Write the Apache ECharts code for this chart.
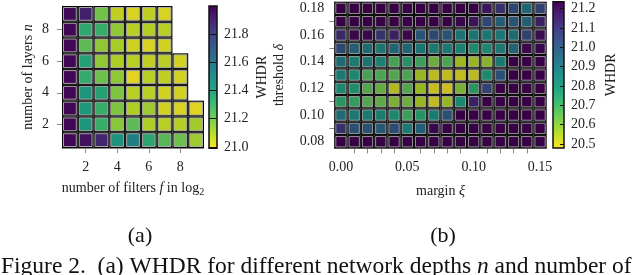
<!DOCTYPE html>
<html><head><meta charset="utf-8">
<script src="https://cdn.jsdelivr.net/npm/echarts@6/dist/echarts.min.js"></script>
<style>html,body{margin:0;padding:0;background:#fff}#c{width:640px;height:275px}</style>
</head><body><div id="c"></div>
<script>
// ---------- data ----------
const filtersF = ['1','2','3','4','5','6','7','8','9'];
const layersN  = ['1','2','3','4','5','6','7','8','9'];
// rows: n = 1..9, columns: f = 1..9 (null = not evaluated)
const whdrN1 = [21.98, 21.95, 21.88, 21.44, 21.52, 21.35, 21.24, 21.20, 21.12];
const whdrN2 = [21.98, 21.42, 21.31, 21.15, 21.23, 21.09, 21.07, 21.08, 21.11];
const whdrN3 = [21.98, 21.41, 21.31, 21.17, 21.09, 21.12, 21.03, 21.02, 21.00];
const whdrN4 = [21.98, 21.43, 21.37, 21.17, 21.07, 21.07, 21.03, 21.03, null];
const whdrN5 = [21.98, 21.32, 21.20, 21.14, 21.00, 21.07, 21.06, 21.03, null];
const whdrN6 = [21.98, 21.37, 21.14, 21.09, 21.07, 21.06, 21.07, 21.03, null];
const whdrN7 = [21.98, 21.23, 21.14, 21.10, 21.04, 21.02, 21.03, null, null];
const whdrN8 = [21.98, 21.34, 21.31, 21.14, 21.07, 21.08, 21.07, null, null];
const whdrN9 = [21.97, 21.90, 21.19, 21.06, 21.02, 21.06, 21.02, null, null];
const depthRows = [whdrN1, whdrN2, whdrN3, whdrN4, whdrN5, whdrN6, whdrN7, whdrN8, whdrN9];
const depthRange = [20.99, 22.0];

const marginXi = ['0.00','0.01','0.02','0.03','0.04','0.05','0.06','0.07','0.08','0.09','0.10','0.11','0.12','0.13','0.14','0.15'];
const thresholdDelta = ['0.08','0.09','0.10','0.11','0.12','0.13','0.14','0.15','0.16','0.17','0.18'];
const whdrD008 = [21.25,21.25,21.25,21.25,21.25,21.25,21.25,21.25,21.25,21.25,21.25,21.25,21.25,21.25,21.25,21.25];
const whdrD009 = [21.10,21.00,21.00,20.97,21.02,20.85,20.95,21.22,21.25,21.25,21.25,21.25,21.25,21.25,21.25,21.25];
const whdrD010 = [20.90,20.85,20.84,20.83,20.79,20.70,20.75,20.84,21.00,21.25,21.25,21.25,21.25,21.25,21.25,21.25];
const whdrD011 = [20.74,20.71,20.66,20.64,20.60,20.62,20.56,20.50,20.56,20.79,21.15,21.25,21.25,21.25,21.25,21.25];
const whdrD012 = [20.80,20.77,20.66,20.63,20.52,20.66,20.56,20.49,20.48,20.60,20.74,21.05,21.25,21.25,21.25,21.25];
const whdrD013 = [20.85,20.80,20.68,20.67,20.66,20.67,20.56,20.51,20.50,20.50,20.51,20.79,21.00,21.25,21.25,21.25];
const whdrD014 = [20.90,20.84,20.87,20.82,20.68,20.75,20.70,20.62,20.67,20.55,20.56,20.58,20.85,21.25,21.25,21.25];
const whdrD015 = [21.03,20.95,20.90,20.86,20.93,20.92,20.87,20.85,20.85,20.82,20.78,20.80,20.85,20.93,21.22,21.22];
const whdrD016 = [21.13,21.22,21.22,21.10,21.15,21.22,20.99,21.03,20.99,20.88,20.86,20.87,20.87,20.90,21.05,21.20];
const whdrD017 = [21.25,21.25,21.25,21.25,21.25,21.25,21.25,21.25,21.25,21.22,21.18,21.04,20.95,20.98,20.95,21.15];
const whdrD018 = [21.25,21.25,21.25,21.25,21.25,21.25,21.25,21.25,21.25,21.25,21.25,21.18,21.10,21.03,20.92,21.05];
const marginRows = [whdrD008, whdrD009, whdrD010, whdrD011, whdrD012, whdrD013, whdrD014, whdrD015, whdrD016, whdrD017, whdrD018];
const marginRange = [20.48, 21.235];

// ---------- helpers ----------
const viridis = ['#440154','#482475','#414487','#355f8d','#2a788e','#21918c','#22a884','#44bf70','#7ad151','#bddf26','#fde725'];
const viridisLowToHigh = viridis.slice().reverse();
function toCells(rows) {
  const out = [];
  rows.forEach((row, r) => row.forEach((v, c) => { if (v !== null) out.push([c, r, v]); }));
  return out;
}
function makeCellRenderer(alpha) {
  return function (params, api) {
    const p = api.coord([api.value(0), api.value(1)]);
    const s = api.size([1, 1]);
    const w = s[0], h = s[1];
    const x0 = p[0] - w / 2, y0 = p[1] - h / 2;
    return { type: 'group', children: [
      { type: 'rect', shape: { x: x0, y: y0, width: w, height: h }, style: { fill: '#050505' } },
      { type: 'rect', shape: { x: x0 + 1.5, y: y0 + 1.5, width: w - 3, height: h - 3 },
        style: { fill: api.visual('color'), stroke: '#b0b0b0', lineWidth: 1, opacity: alpha } }
    ]};
  };
}
function renderBar(params, api) {
  const top = api.coord([0, api.value(2)]);
  const bot = api.coord([0, api.value(1)]);
  const w = api.size([1, 0])[0];
  const stops = viridis.map((c, i) => ({ offset: i / (viridis.length - 1), color: c }));
  return { type: 'rect', shape: { x: top[0] - w / 2, y: top[1], width: w, height: bot[1] - top[1] },
    style: { fill: { type: 'linear', x: 0, y: 0, x2: 0, y2: 1, colorStops: stops }, stroke: '#111', lineWidth: 1.5 } };
}
const SERIF = 'Liberation Serif';
const lbl = { fontFamily: SERIF, fontSize: 14, color: '#222' };
const nameStyle = { fontFamily: SERIF, fontSize: 14, color: '#222',
  rich: { i: { fontFamily: SERIF, fontSize: 14, fontStyle: 'italic', color: '#222' },
          s: { fontFamily: SERIF, fontSize: 10, color: '#222', padding: [7, 0, 0, 0] } } };
const spine = { show: true, lineStyle: { color: '#888', width: 1 } };
const tick = { show: true, length: 5, lineStyle: { color: '#888' } };
const evenIdx = (i) => i % 2 === 1;
const fifthIdx = (i) => i % 5 === 0;

const chart = echarts.init(document.getElementById('c'), null, { renderer: 'canvas' });
chart.setOption({
  animation: false,
  backgroundColor: '#fff',
  textStyle: { fontFamily: SERIF },
  grid: [
    { left: 62, top: 6, width: 142, height: 142 },
    { left: 209, top: 6, width: 8, height: 142.3 },
    { left: 334.3, top: 1.7, width: 212.4, height: 146.7 },
    { left: 553, top: 1.7, width: 11, height: 146.3 }
  ],
  xAxis: [
    { gridIndex: 0, type: 'category', data: filtersF, axisLine: spine,
      axisTick: Object.assign({ interval: evenIdx, alignWithLabel: true }, tick),
      axisLabel: Object.assign({ interval: evenIdx, margin: 12 }, lbl),
      name: 'number of filters {i|f} in log{s|2}', nameLocation: 'middle', nameGap: 32, nameTextStyle: nameStyle },
    { gridIndex: 1, type: 'category', data: ['cb'], show: false },
    { gridIndex: 2, type: 'category', data: marginXi, axisLine: spine,
      axisTick: Object.assign({ interval: (i) => !fifthIdx(i), alignWithLabel: true }, tick),
      axisLabel: Object.assign({ interval: 4, margin: 12 }, lbl),
      name: 'margin {i|ξ}', nameLocation: 'middle', nameGap: 36, nameTextStyle: nameStyle },
    { gridIndex: 3, type: 'category', data: ['cb'], show: false }
  ],
  yAxis: [
    { gridIndex: 0, type: 'category', data: layersN, axisLine: spine,
      axisTick: Object.assign({ interval: evenIdx, alignWithLabel: true }, tick),
      axisLabel: Object.assign({ interval: evenIdx, margin: 13 }, lbl),
      name: 'number of layers {i|n}', nameLocation: 'middle', nameGap: 27, nameRotate: 90, nameTextStyle: nameStyle },
    { gridIndex: 1, type: 'value', position: 'right', min: depthRange[0], max: depthRange[1], splitNumber: 5,
      axisLine: { show: false }, splitLine: { show: false },
      axisTick: { show: true, inside: true, length: 8, lineStyle: { color: '#111', width: 1 } },
      axisLabel: Object.assign({ margin: 7, showMinLabel: false, showMaxLabel: false, formatter: (v) => v.toFixed(1) }, lbl),
      name: 'WHDR', nameLocation: 'middle', nameGap: 38, nameRotate: 90, nameTextStyle: nameStyle, z: 10 },
    { gridIndex: 2, type: 'category', data: thresholdDelta, axisLine: spine,
      axisTick: Object.assign({ interval: (i) => i % 2 !== 0 }, tick, { alignWithLabel: true }),
      axisLabel: Object.assign({ interval: 1, margin: 10 }, lbl),
      name: 'threshold {i|δ}', nameLocation: 'middle', nameGap: 48, nameRotate: 90, nameTextStyle: nameStyle },
    { gridIndex: 3, type: 'value', position: 'right', min: marginRange[0], max: marginRange[1], splitNumber: 7,
      axisLine: { show: false }, splitLine: { show: false },
      axisTick: { show: true, inside: true, length: 4, lineStyle: { color: '#111', width: 1 } },
      axisLabel: Object.assign({ margin: 7, showMinLabel: false, showMaxLabel: false, formatter: (v) => v.toFixed(1) }, lbl),
      name: 'WHDR', nameLocation: 'middle', nameGap: 40, nameRotate: 90, nameTextStyle: nameStyle, z: 10 }
  ],
  visualMap: [
    { type: 'continuous', show: false, seriesIndex: 0, dimension: 2, min: depthRange[0], max: depthRange[1], inRange: { color: viridisLowToHigh } },
    { type: 'continuous', show: false, seriesIndex: 2, dimension: 2, min: marginRange[0], max: marginRange[1], inRange: { color: viridisLowToHigh } }
  ],
  series: [
    { type: 'custom', xAxisIndex: 0, yAxisIndex: 0, renderItem: makeCellRenderer(0.92), data: toCells(depthRows), encode: { x: 0, y: 1 } },
    { type: 'custom', xAxisIndex: 1, yAxisIndex: 1, renderItem: renderBar, data: [[0, depthRange[0], depthRange[1]]], encode: { x: 0, y: [1, 2] }, z: 1 },
    { type: 'custom', xAxisIndex: 2, yAxisIndex: 2, renderItem: makeCellRenderer(0.82), data: toCells(marginRows), encode: { x: 0, y: 1 } },
    { type: 'custom', xAxisIndex: 3, yAxisIndex: 3, renderItem: renderBar, data: [[0, marginRange[0], marginRange[1]]], encode: { x: 0, y: [1, 2] }, z: 1 }
  ],
  graphic: [
    { type: 'text', x: 140, y: 225, style: { text: '(a)', font: '22px "Liberation Serif"', fill: '#111', textAlign: 'center' } },
    { type: 'text', x: 443, y: 225, style: { text: '(b)', font: '22px "Liberation Serif"', fill: '#111', textAlign: 'center' } },
    { type: 'text', x: 1, y: 255, style: { text: 'Figure 2.  (a) WHDR for different network depths {i|n} and number of',
      font: '23.5px "Liberation Serif"', fill: '#111',
      rich: { i: { fontFamily: SERIF, fontSize: 23.5, fontStyle: 'italic' } } } }
  ]
});
</script></body></html>
